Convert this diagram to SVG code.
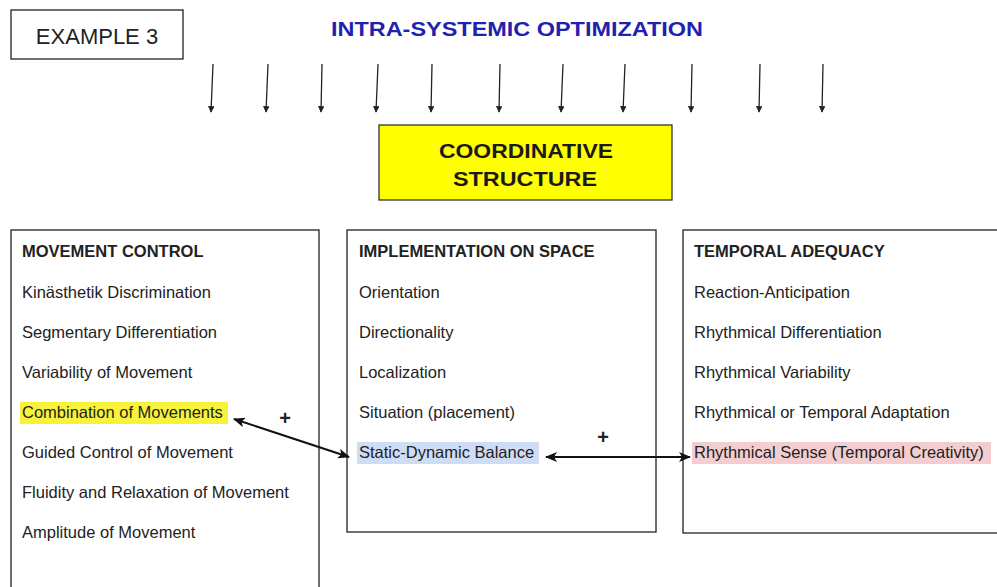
<svg xmlns="http://www.w3.org/2000/svg" width="997" height="587" viewBox="0 0 997 587">
<style>
.box{fill:#fff;stroke:#222;stroke-width:1.3}
.t{font-family:"Liberation Sans",Arial,sans-serif;font-size:16.5px;fill:#222}
.h{font-weight:bold}
.plus{font-family:"Liberation Sans",Arial,sans-serif;font-size:20px;font-weight:bold;fill:#222}
.down{stroke:#222;stroke-width:1.3;fill:none}
.conn{stroke:#111;stroke-width:2;fill:none}
</style>
<defs>
<marker id="ah" viewBox="0 0 10 10" refX="9" refY="5" markerWidth="5" markerHeight="5" orient="auto" markerUnits="strokeWidth">
<path d="M0,0 L10,5 L0,10 z" fill="#222"/>
</marker>
<marker id="ch" viewBox="0 0 12 10" refX="11" refY="5" markerWidth="7" markerHeight="5" orient="auto-start-reverse" markerUnits="strokeWidth">
<path d="M0,0 L12,5 L0,10 L3,5 z" fill="#111"/>
</marker>
</defs>
<rect width="997" height="587" fill="#fff"/>

<g id="example">
<rect class="box" x="11" y="10" width="172" height="49"/>
<text class="t" x="97" y="44" text-anchor="middle" style="font-size:22px">EXAMPLE 3</text>
</g>

<g id="title">
<text x="517" y="36" text-anchor="middle" font-family="'Liberation Sans',Arial,sans-serif" font-weight="bold" font-size="20" fill="#1f22b0" textLength="372" lengthAdjust="spacingAndGlyphs">INTRA-SYSTEMIC OPTIMIZATION</text>
</g>

<g id="coordinative">
<rect x="379" y="125" width="293" height="75" fill="#ffff00" stroke="#333" stroke-width="1.3"/>
<text x="526" y="158" text-anchor="middle" font-family="'Liberation Sans',Arial,sans-serif" font-weight="bold" font-size="21" fill="#1a1a1a" textLength="174" lengthAdjust="spacingAndGlyphs">COORDINATIVE</text>
<text x="525" y="186" text-anchor="middle" font-family="'Liberation Sans',Arial,sans-serif" font-weight="bold" font-size="21" fill="#1a1a1a" textLength="144" lengthAdjust="spacingAndGlyphs">STRUCTURE</text>
</g>

<g id="movement-control">
<rect class="box" x="11" y="230" width="308" height="370"/>
<rect x="20" y="402" width="208" height="22" fill="#f7f23a"/>
<text class="t h" x="22" y="257">MOVEMENT CONTROL</text>
<text class="t" x="22" y="298">Kinästhetik Discrimination</text>
<text class="t" x="22" y="338">Segmentary Differentiation</text>
<text class="t" x="22" y="378">Variability of Movement</text>
<text class="t" x="22" y="418">Combination of Movements</text>
<text class="t" x="22" y="458">Guided Control of Movement</text>
<text class="t" x="22" y="498">Fluidity and Relaxation of Movement</text>
<text class="t" x="22" y="538">Amplitude of Movement</text>
</g>

<g id="implementation-on-space">
<rect class="box" x="347" y="230" width="309" height="302"/>
<rect x="357" y="442" width="182" height="22" fill="#cfdcf5"/>
<text class="t h" x="359" y="257">IMPLEMENTATION ON SPACE</text>
<text class="t" x="359" y="298">Orientation</text>
<text class="t" x="359" y="338">Directionality</text>
<text class="t" x="359" y="378">Localization</text>
<text class="t" x="359" y="418">Situation (placement)</text>
<text class="t" x="359" y="458">Static-Dynamic Balance</text>
</g>

<g id="temporal-adequacy">
<rect class="box" x="683" y="230" width="330" height="303"/>
<rect x="692" y="442" width="299" height="22" fill="#f3cdd0"/>
<text class="t h" x="694" y="257">TEMPORAL ADEQUACY</text>
<text class="t" x="694" y="298">Reaction-Anticipation</text>
<text class="t" x="694" y="338">Rhythmical Differentiation</text>
<text class="t" x="694" y="378">Rhythmical Variability</text>
<text class="t" x="694" y="418">Rhythmical or Temporal Adaptation</text>
<text class="t" x="694" y="458">Rhythmical Sense (Temporal Creativity)</text>
</g>

<g id="connectors">
<g class="down" marker-end="url(#ah)">
<line x1="213" y1="64" x2="211" y2="112"/>
<line x1="268" y1="64" x2="266" y2="112"/>
<line x1="322" y1="64" x2="321" y2="112"/>
<line x1="378" y1="64" x2="376" y2="112"/>
<line x1="432" y1="64" x2="431" y2="112"/>
<line x1="500" y1="64" x2="499" y2="112"/>
<line x1="563" y1="64" x2="561" y2="112"/>
<line x1="625" y1="64" x2="623" y2="112"/>
<line x1="692" y1="64" x2="691" y2="112"/>
<line x1="760" y1="64" x2="759" y2="112"/>
<line x1="823" y1="64" x2="822" y2="112"/>
</g>
<line class="conn" x1="234" y1="419" x2="349" y2="457" marker-start="url(#ch)" marker-end="url(#ch)"/>
<line class="conn" x1="546" y1="457" x2="690" y2="457" marker-start="url(#ch)" marker-end="url(#ch)"/>
<text class="plus" x="285" y="425" text-anchor="middle">+</text>
<text class="plus" x="603" y="444" text-anchor="middle">+</text>
</g>
</svg>
